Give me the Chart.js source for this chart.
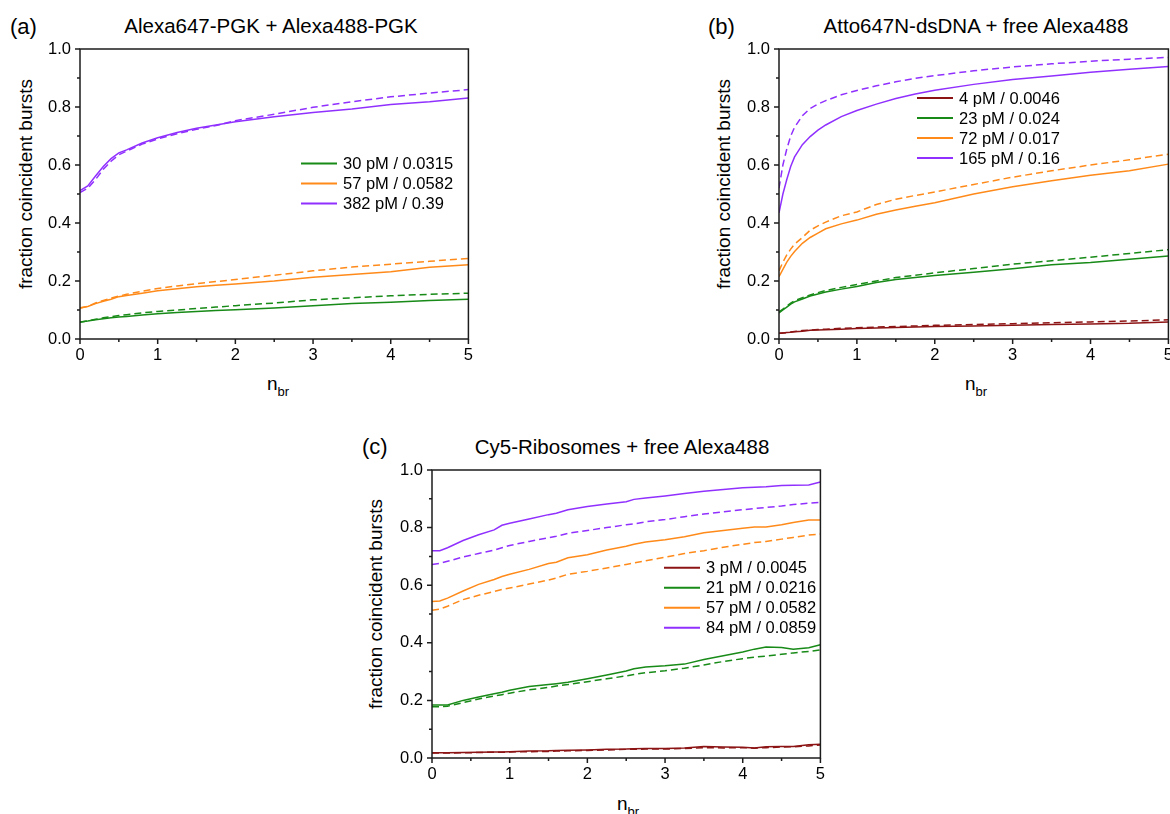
<!DOCTYPE html>
<html>
<head>
<meta charset="utf-8">
<script src="https://cdn.jsdelivr.net/npm/chart.js@4.4.1/dist/chart.umd.min.js"></script>
<style>
  body { margin: 0; width: 1170px; height: 814px; overflow: hidden; background: #fff; position: relative;
         font-family: "Liberation Sans", Arial, sans-serif; color: #000; }
  canvas { position: absolute; }
  .txt { position: absolute; white-space: nowrap; line-height: 1; }
  .panel { font-size: 22px; }
  .title { font-size: 20.5px; transform: translateX(-50%); }
  .ytitle { font-size: 19px; transform: translate(-50%, -50%) rotate(-90deg); }
  .xtitle { font-size: 19px; }
  .xtitle span { font-size: 13px; position: relative; top: 6px; }
</style>
</head>
<body>
<div class="txt panel" style="left:10px; top:15.7px">(a)</div>
<div class="txt title" style="left:271px; top:15.8px">Alexa647-PGK + Alexa488-PGK</div>
<div class="txt ytitle" style="left:25px; top:184px">fraction coincident bursts</div>
<div class="txt xtitle" style="left:267px; top:374px">n<span>br</span></div>

<div class="txt panel" style="left:708px; top:15.7px">(b)</div>
<div class="txt title" style="left:976px; top:15.8px">Atto647N-dsDNA + free Alexa488</div>
<div class="txt ytitle" style="left:723px; top:184px">fraction coincident bursts</div>
<div class="txt xtitle" style="left:965px; top:374px">n<span>br</span></div>

<div class="txt panel" style="left:362px; top:436.4px">(c)</div>
<div class="txt title" style="left:622px; top:437px">Cy5-Ribosomes + free Alexa488</div>
<div class="txt ytitle" style="left:375px; top:604px">fraction coincident bursts</div>
<div class="txt xtitle" style="left:617px; top:794px">n<span>br</span></div>

<canvas id="chartA" width="480" height="400" style="left:0px; top:0px"></canvas>
<canvas id="chartB" width="480" height="400" style="left:700px; top:0px"></canvas>
<canvas id="chartC" width="480" height="384" style="left:352px; top:430px"></canvas>

<script>
// ---- data ----
// x values (n_br) where the curves were sampled
const nbrA = [0, 0.1, 0.2, 0.3, 0.4, 0.5, 0.6, 0.8, 1, 1.25, 1.5, 1.75, 2, 2.5, 3, 3.5, 4, 4.5, 5];
const nbrB = [0, 0.05, 0.1, 0.15, 0.2, 0.3, 0.4, 0.5, 0.6, 0.8, 1, 1.25, 1.5, 1.75, 2, 2.5, 3, 3.5, 4, 4.5, 5];
const nbrC = [0, 0.1, 0.2, 0.4, 0.6, 0.8, 0.9, 1, 1.25, 1.5, 1.6, 1.75, 2, 2.25, 2.5, 2.6, 2.75, 3, 3.25, 3.5, 3.75, 4, 4.15, 4.3, 4.5, 4.65, 4.85, 5];

// (a) Alexa647-PGK + Alexa488-PGK  (solid = measured, dashed = expected)
const labelsA = ['30 pM / 0.0315', '57 pM / 0.0582', '382 pM / 0.39'];
const a30 = [0.059, 0.062, 0.066, 0.070, 0.073, 0.076, 0.078, 0.083, 0.087, 0.091, 0.095, 0.098, 0.101, 0.107, 0.115, 0.122, 0.127, 0.133, 0.137];
const a30dash = [0.058, 0.063, 0.068, 0.073, 0.077, 0.081, 0.084, 0.090, 0.095, 0.100, 0.105, 0.110, 0.115, 0.124, 0.135, 0.142, 0.149, 0.154, 0.158];
const a57 = [0.108, 0.112, 0.122, 0.130, 0.137, 0.146, 0.150, 0.158, 0.166, 0.173, 0.180, 0.185, 0.190, 0.200, 0.213, 0.222, 0.232, 0.247, 0.256];
const a57dash = [0.106, 0.113, 0.124, 0.133, 0.141, 0.148, 0.154, 0.165, 0.174, 0.183, 0.191, 0.198, 0.205, 0.220, 0.235, 0.248, 0.258, 0.268, 0.278];
const a382 = [0.512, 0.528, 0.562, 0.595, 0.622, 0.642, 0.652, 0.676, 0.694, 0.712, 0.727, 0.738, 0.749, 0.766, 0.781, 0.793, 0.809, 0.818, 0.831];
const a382dash = [0.505, 0.520, 0.550, 0.585, 0.613, 0.635, 0.648, 0.672, 0.690, 0.708, 0.723, 0.736, 0.753, 0.775, 0.799, 0.818, 0.835, 0.848, 0.860];

// (b) Atto647N-dsDNA + free Alexa488
const labelsB = ['4 pM / 0.0046', '23 pM / 0.024', '72 pM / 0.017', '165 pM / 0.16'];
const b4 = [0.020, 0.021, 0.022, 0.023, 0.025, 0.027, 0.030, 0.031, 0.032, 0.034, 0.036, 0.038, 0.040, 0.041, 0.043, 0.045, 0.047, 0.050, 0.052, 0.054, 0.059];
const b4dash = [0.020, 0.021, 0.022, 0.024, 0.026, 0.029, 0.031, 0.033, 0.034, 0.037, 0.039, 0.041, 0.043, 0.045, 0.047, 0.050, 0.053, 0.056, 0.059, 0.062, 0.066];
const b23 = [0.090, 0.100, 0.110, 0.120, 0.128, 0.138, 0.148, 0.155, 0.162, 0.172, 0.181, 0.195, 0.205, 0.212, 0.219, 0.230, 0.242, 0.256, 0.264, 0.275, 0.286];
const b23dash = [0.093, 0.103, 0.113, 0.124, 0.132, 0.142, 0.152, 0.160, 0.167, 0.178, 0.188, 0.200, 0.212, 0.220, 0.228, 0.243, 0.258, 0.270, 0.282, 0.295, 0.308];
const b72 = [0.215, 0.240, 0.265, 0.285, 0.302, 0.330, 0.350, 0.365, 0.380, 0.397, 0.410, 0.430, 0.445, 0.458, 0.470, 0.500, 0.525, 0.546, 0.565, 0.580, 0.603];
const b72dash = [0.235, 0.265, 0.290, 0.310, 0.327, 0.350, 0.375, 0.390, 0.403, 0.425, 0.438, 0.464, 0.482, 0.495, 0.507, 0.533, 0.558, 0.580, 0.600, 0.618, 0.637];
const b165 = [0.435, 0.500, 0.550, 0.595, 0.628, 0.670, 0.698, 0.720, 0.738, 0.767, 0.788, 0.810, 0.829, 0.845, 0.858, 0.878, 0.895, 0.907, 0.920, 0.930, 0.940];
const b165dash = [0.520, 0.600, 0.655, 0.700, 0.730, 0.770, 0.795, 0.810, 0.822, 0.842, 0.857, 0.873, 0.887, 0.899, 0.908, 0.925, 0.938, 0.949, 0.958, 0.965, 0.971];

// (c) Cy5-Ribosomes + free Alexa488
const labelsC = ['3 pM / 0.0045', '21 pM / 0.0216', '57 pM / 0.0582', '84 pM / 0.0859'];
const c3 = [0.018, 0.018, 0.018, 0.019, 0.020, 0.021, 0.021, 0.022, 0.024, 0.025, 0.026, 0.027, 0.028, 0.030, 0.031, 0.032, 0.033, 0.033, 0.035, 0.040, 0.038, 0.037, 0.035, 0.039, 0.040, 0.040, 0.046, 0.048];
const c3dash = [0.017, 0.017, 0.017, 0.018, 0.019, 0.020, 0.020, 0.021, 0.022, 0.023, 0.024, 0.025, 0.026, 0.028, 0.030, 0.030, 0.031, 0.031, 0.033, 0.036, 0.035, 0.036, 0.034, 0.036, 0.038, 0.039, 0.042, 0.045];
const c21 = [0.184, 0.184, 0.184, 0.200, 0.212, 0.223, 0.228, 0.235, 0.248, 0.255, 0.258, 0.263, 0.275, 0.288, 0.302, 0.310, 0.316, 0.320, 0.326, 0.342, 0.355, 0.368, 0.378, 0.385, 0.384, 0.378, 0.383, 0.393];
const c21dash = [0.178, 0.178, 0.180, 0.192, 0.205, 0.215, 0.220, 0.225, 0.237, 0.245, 0.250, 0.255, 0.265, 0.275, 0.285, 0.290, 0.296, 0.303, 0.312, 0.323, 0.335, 0.345, 0.350, 0.354, 0.360, 0.365, 0.370, 0.375];
const c57 = [0.543, 0.545, 0.555, 0.580, 0.603, 0.620, 0.630, 0.638, 0.655, 0.675, 0.680, 0.695, 0.706, 0.722, 0.735, 0.742, 0.750, 0.758, 0.768, 0.782, 0.790, 0.798, 0.802, 0.802, 0.810, 0.818, 0.826, 0.826];
const c57dash = [0.513, 0.517, 0.527, 0.550, 0.565, 0.578, 0.585, 0.590, 0.604, 0.618, 0.625, 0.638, 0.648, 0.660, 0.672, 0.677, 0.685, 0.697, 0.710, 0.720, 0.732, 0.742, 0.748, 0.752, 0.760, 0.766, 0.774, 0.778];
const c84 = [0.720, 0.720, 0.730, 0.755, 0.775, 0.792, 0.808, 0.815, 0.830, 0.845, 0.850, 0.862, 0.873, 0.882, 0.890, 0.898, 0.903, 0.910, 0.918, 0.926, 0.932, 0.938, 0.940, 0.942, 0.946, 0.947, 0.948, 0.958];
const c84dash = [0.672, 0.676, 0.683, 0.698, 0.710, 0.722, 0.730, 0.738, 0.752, 0.765, 0.770, 0.780, 0.790, 0.800, 0.810, 0.813, 0.820, 0.828, 0.838, 0.847, 0.855, 0.862, 0.866, 0.870, 0.875, 0.880, 0.885, 0.888];

const xTicks = [0, 1, 2, 3, 4, 5];
const yTicks = [0, 0.2, 0.4, 0.6, 0.8, 1.0];

const DARKRED = '#8c1414';
const GREEN = '#178a17';
const ORANGE = '#ff8a1a';
const VIOLET = '#9030ff';
const FONT = '"Liberation Sans", Arial, sans-serif';

function line(label, xs, ys, color, dashed) {
  return {
    label: label,
    data: xs.map((x, i) => ({ x: x, y: ys[i] })),
    borderColor: color,
    borderWidth: 1.5,
    borderDash: dashed ? [7, 4] : [],
    pointRadius: 0,
    tension: 0,
    fill: false,
    inLegend: !dashed
  };
}

// box around the plot plus outward major/minor ticks
const framePlugin = {
  id: 'frame',
  afterDatasetsDraw(chart) {
    const { ctx, chartArea: a, scales } = chart;
    ctx.save();
    ctx.strokeStyle = '#1c1c1c';
    ctx.lineWidth = 1.5;
    ctx.strokeRect(a.left, a.top, a.right - a.left, a.bottom - a.top);
    ctx.beginPath();
    for (let k = 0; k <= 10; k++) {
      const px = scales.x.getPixelForValue(k / 2);
      const len = k % 2 === 0 ? 5 : 3;
      ctx.moveTo(px, a.bottom);
      ctx.lineTo(px, a.bottom + len);
    }
    for (let k = 0; k <= 10; k++) {
      const py = scales.y.getPixelForValue(k / 10);
      const len = k % 2 === 0 ? 5 : 3;
      ctx.moveTo(a.left, py);
      ctx.lineTo(a.left - len, py);
    }
    ctx.stroke();
    ctx.restore();
  }
};

// legend drawn inside the plot, solid series only
const inlineLegend = {
  id: 'inlineLegend',
  afterDraw(chart, args, opts) {
    const ctx = chart.ctx;
    ctx.save();
    ctx.font = '16.5px ' + FONT;
    ctx.textBaseline = 'middle';
    ctx.fillStyle = '#000';
    let row = 0;
    chart.data.datasets.forEach(ds => {
      if (!ds.inLegend) return;
      const y = opts.y + row * 20;
      ctx.strokeStyle = ds.borderColor;
      ctx.lineWidth = 2;
      ctx.setLineDash([]);
      ctx.beginPath();
      ctx.moveTo(opts.x, y);
      ctx.lineTo(opts.x + 36, y);
      ctx.stroke();
      ctx.fillText(ds.label, opts.x + 42, y + 1);
      row++;
    });
    ctx.restore();
  }
};

function makeChart(id, datasets, box) {
  return new Chart(document.getElementById(id), {
    type: 'line',
    data: { datasets: datasets },
    plugins: [framePlugin, inlineLegend],
    options: {
      responsive: false,
      animation: false,
      devicePixelRatio: 1,
      layout: { padding: { top: box.top, right: box.right, left: 0, bottom: 0 } },
      plugins: {
        legend: { display: false },
        tooltip: { enabled: false },
        inlineLegend: { x: box.legendX, y: box.legendY }
      },
      scales: {
        x: {
          type: 'linear', min: 0, max: 5,
          afterBuildTicks: s => { s.ticks = xTicks.map(v => ({ value: v })); },
          afterFit: s => { s.height = box.xHeight; },
          grid: { display: false, drawTicks: false },
          border: { display: false },
          ticks: { padding: 7, color: '#000', font: { size: 16.5, family: FONT }, callback: v => String(v) }
        },
        y: {
          type: 'linear', min: 0, max: 1,
          afterBuildTicks: s => { s.ticks = yTicks.map(v => ({ value: v })); },
          afterFit: s => { s.width = box.yWidth; },
          grid: { display: false, drawTicks: false },
          border: { display: false },
          ticks: { padding: 9, color: '#000', font: { size: 16.5, family: FONT }, callback: v => Number(v).toFixed(1) }
        }
      }
    }
  });
}

makeChart('chartA', [
  line(null, nbrA, a30dash, GREEN, true),
  line(null, nbrA, a57dash, ORANGE, true),
  line(null, nbrA, a382dash, VIOLET, true),
  line(labelsA[0], nbrA, a30, GREEN, false),
  line(labelsA[1], nbrA, a57, ORANGE, false),
  line(labelsA[2], nbrA, a382, VIOLET, false)
], { top: 49, right: 9, yWidth: 80, xHeight: 61, legendX: 301, legendY: 163.5 });

makeChart('chartB', [
  line(null, nbrB, b4dash, DARKRED, true),
  line(null, nbrB, b23dash, GREEN, true),
  line(null, nbrB, b72dash, ORANGE, true),
  line(null, nbrB, b165dash, VIOLET, true),
  line(labelsB[0], nbrB, b4, DARKRED, false),
  line(labelsB[1], nbrB, b23, GREEN, false),
  line(labelsB[2], nbrB, b72, ORANGE, false),
  line(labelsB[3], nbrB, b165, VIOLET, false)
], { top: 49, right: 10, yWidth: 79, xHeight: 61, legendX: 217, legendY: 98 });

makeChart('chartC', [
  line(null, nbrC, c3dash, DARKRED, true),
  line(null, nbrC, c21dash, GREEN, true),
  line(null, nbrC, c57dash, ORANGE, true),
  line(null, nbrC, c84dash, VIOLET, true),
  line(labelsC[0], nbrC, c3, DARKRED, false),
  line(labelsC[1], nbrC, c21, GREEN, false),
  line(labelsC[2], nbrC, c57, ORANGE, false),
  line(labelsC[3], nbrC, c84, VIOLET, false)
], { top: 40, right: 11, yWidth: 80, xHeight: 56, legendX: 312, legendY: 137.7 });
</script>
</body>
</html>
